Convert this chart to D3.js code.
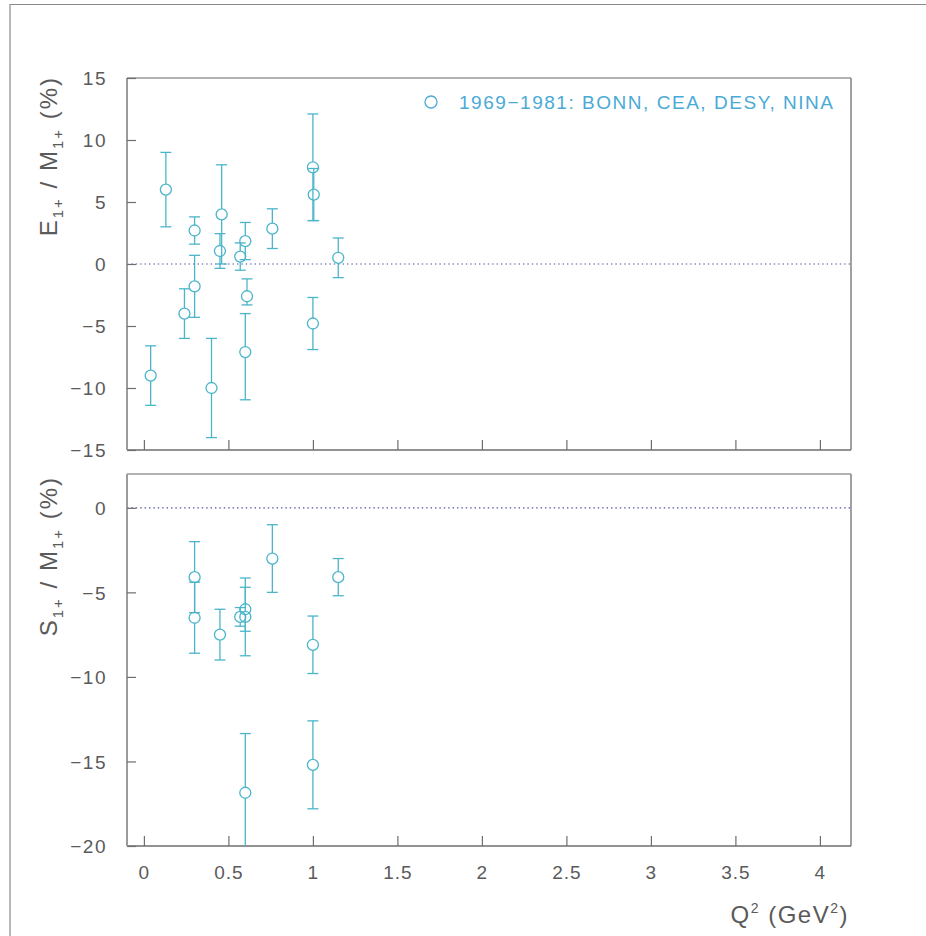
<!DOCTYPE html>
<html>
<head>
<meta charset="utf-8">
<script src="https://cdn.jsdelivr.net/npm/d3@7"></script>
<style>
  html, body { margin: 0; padding: 0; background: #fff; }
  svg { display: block; }
  text { font-family: "Liberation Sans", "DejaVu Sans", sans-serif; }
</style>
</head>
<body>
<svg id="chart" width="926" height="936"></svg>
<script>
// E1+/M1+ ratio vs Q^2 (1969-1981 world data)
const q2E   = [0.04, 0.13, 0.24, 0.30, 0.30, 0.40, 0.45, 0.46, 0.57, 0.60, 0.60, 0.61, 0.76, 1.00, 1.00, 1.005, 1.15];
const eVal  = [-9.0, 6.0, -4.0, 2.7, -1.8, -10.0, 1.05, 4.0, 0.6, 1.85, -7.1, -2.6, 2.85, 7.8, -4.8, 5.6, 0.5];
const eErrUp = [2.4, 3.0, 2.0, 1.1, 2.5, 4.0, 1.4, 4.0, 1.1, 1.5, 3.1, 1.4, 1.6, 4.3, 2.1, 2.1, 1.6];
const eErrDn = [2.4, 3.0, 2.0, 1.1, 2.5, 4.0, 1.4, 4.0, 1.1, 1.5, 3.85, 0.7, 1.6, 4.3, 2.1, 2.1, 1.6];

// S1+/M1+ ratio vs Q^2
const q2S   = [0.30, 0.30, 0.45, 0.57, 0.60, 0.60, 0.60, 0.76, 1.00, 1.00, 1.15];
const sVal  = [-4.1, -6.5, -7.5, -6.45, -6.0, -6.45, -16.85, -3.0, -8.1, -15.2, -4.1];
const sErr  = [2.1, 2.1, 1.5, 0.55, 1.3, 2.3, 3.5, 2.0, 1.7, 2.6, 1.1];

const xTicks  = [0, 0.5, 1, 1.5, 2, 2.5, 3, 3.5, 4];
const eTicks  = [-15, -10, -5, 0, 5, 10, 15];
const sTicks  = [-20, -15, -10, -5, 0];
const legendLabel = "1969\u22121981: BONN, CEA, DESY, NINA";

const svg = d3.select("#chart");
const markColor = "#4bb5ca";
const axisColor = "#6e6e6e";
const textColor = "#5a5a5a";

// outer page frame
svg.append("path")
  .attr("d", "M10,936 L10,4.5 L926,4.5")
  .attr("fill", "none").attr("stroke", "#8a8a8a").attr("stroke-width", 1.2);

const x = d3.scaleLinear().domain([-0.1, 4.184]).range([127, 851]);

function panel(opts) {
  const { top, bottom, yDomain, yTicks, q2, vals, up, dn, id, showX } = opts;
  const y = d3.scaleLinear().domain(yDomain).range([bottom, top]);
  const g = svg.append("g");

  g.append("clipPath").attr("id", id)
    .append("rect").attr("x", 127).attr("y", top).attr("width", 724).attr("height", bottom - top);

  // dotted zero line
  g.append("line")
    .attr("x1", 127).attr("x2", 851).attr("y1", y(0)).attr("y2", y(0))
    .attr("stroke", "#4a4f9e").attr("stroke-width", 1.2).attr("stroke-dasharray", "1.4,3");

  // frame
  g.append("line").attr("x1", 127).attr("x2", 851).attr("y1", top).attr("y2", top)
    .attr("stroke", "#9a9a9a").attr("stroke-width", 1.4);
  g.append("line").attr("x1", 851).attr("x2", 851).attr("y1", top).attr("y2", bottom)
    .attr("stroke", axisColor).attr("stroke-width", 1.3);
  g.append("line").attr("x1", 127).attr("x2", 851).attr("y1", bottom).attr("y2", bottom)
    .attr("stroke", axisColor).attr("stroke-width", 1.3);
  g.append("line").attr("x1", 127).attr("x2", 127).attr("y1", top).attr("y2", bottom)
    .attr("stroke", "#9c9c9c").attr("stroke-width", 2);

  // y axis ticks and labels
  const yAxis = d3.axisLeft(y).tickValues(yTicks).tickSizeInner(-9).tickSizeOuter(0)
    .tickFormat(d => d < 0 ? "\u2212" + Math.abs(d) : String(d));
  const ya = g.append("g").attr("transform", "translate(127,0)").call(yAxis);
  ya.select(".domain").remove();
  ya.selectAll(".tick line").attr("stroke", axisColor).attr("stroke-width", 1.2);
  ya.selectAll(".tick text")
    .attr("x", -20).attr("dy", "0.36em")
    .attr("fill", textColor).attr("font-size", 19).attr("letter-spacing", 1.5)
    .attr("font-family", "Liberation Sans, sans-serif");

  // x axis ticks (labels on bottom panel only)
  const xAxis = d3.axisBottom(x).tickValues(xTicks).tickSizeInner(-10).tickSizeOuter(0)
    .tickFormat(d => showX ? String(d) : "");
  const xa = g.append("g").attr("transform", `translate(0,${bottom})`).call(xAxis);
  xa.select(".domain").remove();
  xa.selectAll(".tick line").attr("stroke", axisColor).attr("stroke-width", 1.2);
  xa.selectAll(".tick text")
    .attr("y", 20).attr("dy", "0.71em")
    .attr("fill", textColor).attr("font-size", 19).attr("letter-spacing", 1)
    .attr("font-family", "Liberation Sans, sans-serif");

  // data points with error bars
  const r = 5.5, cap = 5.5;
  const data = q2.map((q, i) => ({ q, v: vals[i], up: up[i], dn: dn[i] }));
  const pts = g.append("g").attr("clip-path", `url(#${id})`)
    .attr("stroke", markColor).attr("stroke-width", 1.3).attr("fill", "none");
  data.forEach(d => {
    const cx = x(d.q), cy = y(d.v);
    const yHi = y(d.v + d.up), yLo = y(d.v - d.dn);
    if (cy - r > yHi) pts.append("line").attr("x1", cx).attr("x2", cx).attr("y1", yHi).attr("y2", cy - r);
    if (cy + r < yLo) pts.append("line").attr("x1", cx).attr("x2", cx).attr("y1", cy + r).attr("y2", yLo);
    pts.append("line").attr("x1", cx - cap).attr("x2", cx + cap).attr("y1", yHi).attr("y2", yHi);
    pts.append("line").attr("x1", cx - cap).attr("x2", cx + cap).attr("y1", yLo).attr("y2", yLo);
    pts.append("circle").attr("cx", cx).attr("cy", cy).attr("r", r);
  });
  return y;
}

panel({ top: 78, bottom: 450, yDomain: [-15, 15], yTicks: eTicks,
        q2: q2E, vals: eVal, up: eErrUp, dn: eErrDn, id: "clipE", showX: false });
panel({ top: 474, bottom: 846, yDomain: [-20, 2], yTicks: sTicks,
        q2: q2S, vals: sVal, up: sErr, dn: sErr, id: "clipS", showX: true });

// rotated y-axis titles with subscripts
function yTitle(yTop, letter) {
  const t = svg.append("text")
    .attr("transform", `translate(57,${yTop}) rotate(-90)`)
    .attr("text-anchor", "end").attr("fill", textColor)
    .attr("font-size", 24).attr("letter-spacing", 2);
  t.append("tspan").text(letter);
  t.append("tspan").attr("font-size", 15).attr("dy", 6).text("1+");
  t.append("tspan").attr("dy", -6).text(" / M");
  t.append("tspan").attr("font-size", 15).attr("dy", 6).text("1+");
  t.append("tspan").attr("dy", -6).text(" (%)");
}
yTitle(76, "E");
yTitle(476, "S");

// x-axis title
const xt = svg.append("text")
  .attr("x", 849).attr("y", 923).attr("text-anchor", "end")
  .attr("fill", textColor).attr("font-size", 24).attr("letter-spacing", 1.5);
xt.append("tspan").text("Q");
xt.append("tspan").attr("font-size", 14).attr("dy", -10).text("2");
xt.append("tspan").attr("dy", 10).text(" (GeV");
xt.append("tspan").attr("font-size", 14).attr("dy", -10).text("2");
xt.append("tspan").attr("dy", 10).text(")");

// legend
svg.append("circle").attr("cx", 431).attr("cy", 102).attr("r", 6)
  .attr("fill", "none").attr("stroke", "#4aaad6").attr("stroke-width", 1.3);
svg.append("text").attr("x", 459).attr("y", 109)
  .attr("fill", "#4aaad6").attr("font-size", 19)
  .attr("textLength", 374).attr("lengthAdjust", "spacing")
  .text(legendLabel);
</script>
</body>
</html>
